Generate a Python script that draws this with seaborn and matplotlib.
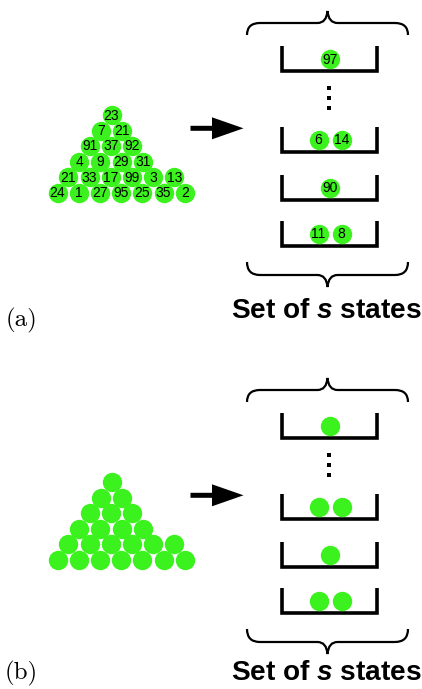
import numpy as np
import pandas as pd
import matplotlib
matplotlib.use("Agg")
import matplotlib.pyplot as plt
from matplotlib.path import Path
from matplotlib.patches import PathPatch
import seaborn as sns

# numbers on the balls in the triangle, top row first
triangle_rows = [[23], [7, 21], [91, 37, 92], [4, 9, 29, 31],
                 [21, 33, 17, 99, 3, 13], [24, 1, 27, 95, 25, 35, 2]]
# contents of the state bins, top bin first (dots after the first one)
bin_contents = [[97], [6, 14], [90], [11, 8]]
panel_labels = ["(a)", "(b)"]
state_text = r"Set of $s$ states"

GREEN = "#3cf21e"
W, H = 422, 689
PANEL_DY = 367

sns.set_theme(style="white")
plt.rcParams["font.family"] = ["Liberation Sans", "DejaVu Sans"]
plt.rcParams["text.color"] = "black"
plt.rcParams["mathtext.fontset"] = "custom"
plt.rcParams["mathtext.it"] = "Liberation Sans:italic:bold"
plt.rcParams["mathtext.rm"] = "Liberation Sans:bold"

fig = plt.figure(figsize=(W / 100, H / 100), dpi=100)
ax = fig.add_axes([0, 0, 1, 1])


def brace(ax, x0, x1, y_end, y_mid, y_tip):
    xm = (x0 + x1) / 2
    r = 13
    verts = [(x0, y_end), (x0, y_mid), (x0 + r, y_mid),
             (xm - 10, y_mid), (xm - 1, y_mid), (xm, y_tip),
             (xm + 1, y_mid), (xm + 10, y_mid),
             (x1 - r, y_mid), (x1, y_mid), (x1, y_end)]
    codes = [Path.MOVETO, Path.CURVE3, Path.CURVE3,
             Path.LINETO, Path.CURVE3, Path.CURVE3,
             Path.CURVE3, Path.CURVE3,
             Path.LINETO, Path.CURVE3, Path.CURVE3]
    ax.add_patch(PathPatch(Path(verts, codes), fill=False, lw=1.6, ec="black",
                           capstyle="butt"))


rows = []
for p in range(2):
    dy = p * PANEL_DY
    show_num = p == 0
    # triangle of balls
    for i, row in enumerate(triangle_rows):
        for j, n in enumerate(row):
            rows.append({"x": 111.5 - i * 10.8 + j * 21.2, "y": 115 + i * 15.5 + dy,
                         "label": str(n) if show_num else ""})
    # bins
    bin_tops = [46, 127, 175, 221]
    for top, content in zip(bin_tops, bin_contents):
        t = top + dy
        b = t + 25
        ax.plot([281.5, 281.5, 377, 377], [t, b, b, t], color="black", lw=2.6,
                solid_joinstyle="miter", solid_capstyle="butt")
        xs = [330] if len(content) == 1 else [318.5, 341.5]
        for x, n in zip(xs, content):
            rows.append({"x": x, "y": b - 12, "label": str(n) if show_num else ""})
    # vertical dots
    ax.scatter([328.5] * 3, np.array([88, 98, 108]) + dy, marker="s", s=9,
               color="black", linewidths=0)
    # braces
    brace(ax, 247, 408, 35 + dy, 23 + dy, 11 + dy)
    brace(ax, 247, 408, 262 + dy, 275 + dy, 287 + dy)
    # arrow
    ax.arrow(190.5, 128.3 + dy, 53, 0, width=5, head_width=22, head_length=31.5,
             length_includes_head=True, fc="black", ec="none")
    # label text
    base = 318 + dy if p == 0 else 680
    ax.text(326, base, state_text, ha="center", va="baseline", fontsize=20.2,
            fontweight="bold", color="black")
    ax.text(21, 320 if p == 0 else 673, panel_labels[p], family="cmr10",
            ha="center", va="center", fontsize=18, color="black")

balls = pd.DataFrame(rows)
sns.scatterplot(data=balls, x="x", y="y", s=195, color=GREEN, linewidth=0,
                ax=ax, legend=False, zorder=3)
for _, r in balls.iterrows():
    if r["label"]:
        ax.text(r["x"], r["y"] + 0.5, r["label"], ha="center", va="center",
                fontsize=10, color="black", zorder=4)

ax.set_xlim(0, W)
ax.set_ylim(H, 0)
ax.axis("off")
fig.savefig("out.png", dpi=100, facecolor="white")
